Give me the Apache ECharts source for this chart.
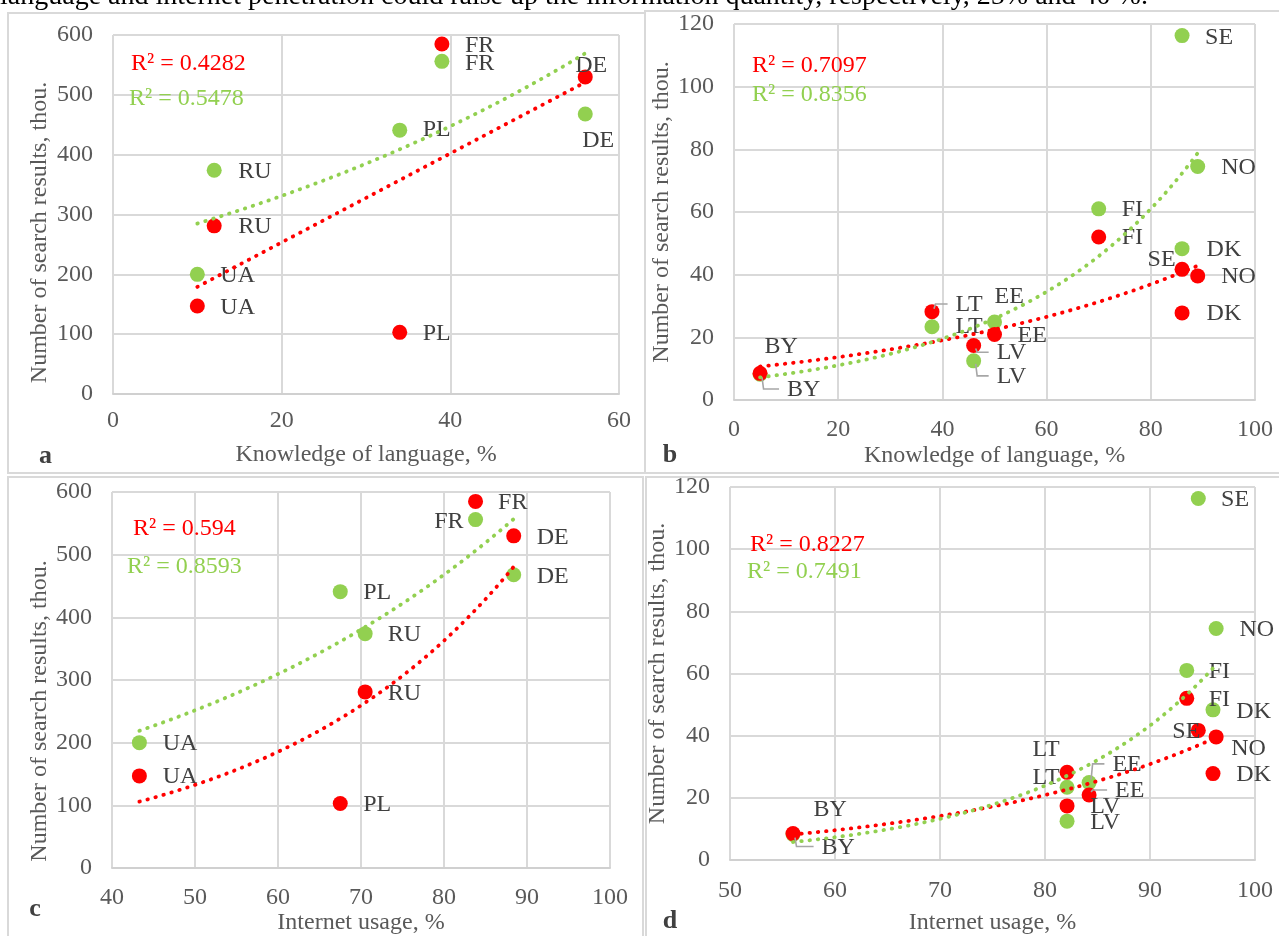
<!DOCTYPE html>
<html>
<head>
<meta charset="utf-8">
<script src="https://cdn.jsdelivr.net/npm/echarts@6/dist/echarts.min.js"></script>
<style>
  html, body { margin: 0; padding: 0; background: #ffffff; }
  #chart { width: 1279px; height: 936px; }
</style>
</head>
<body>
<div id="chart"></div>
<script>
// ---- Data -------------------------------------------------------------
// Large countries
const bigCountries = ['FR', 'DE', 'PL', 'RU', 'UA'];
const bigLanguage  = [39, 56, 34, 12, 10];            // knowledge of language, %
const bigInternet  = [83.8, 88.4, 67.5, 70.5, 43.3];  // internet usage, %
const bigRed       = [585, 530, 103, 281, 147];       // search results, thou.
const bigGreen     = [556, 468, 441, 374, 200];

// Small countries
const smallCountries = ['SE', 'NO', 'FI', 'DK', 'LT', 'EE', 'LV', 'BY'];
const smallLanguage  = [86, 89, 70, 86, 38, 50, 46, 5];
const smallInternet  = [94.6, 96.3, 93.5, 96.0, 82.1, 84.2, 82.1, 56.0];
const smallRed       = [41.7, 39.6, 52, 27.8, 28.2, 20.9, 17.4, 8.5];
const smallGreen     = [116.3, 74.5, 61, 48.3, 23.4, 24.9, 12.5, 8.2];

// Coefficients of determination shown in each panel
const r2Red   = { a: '0.4282', b: '0.7097', c: '0.594', d: '0.8227' };
const r2Green = { a: '0.5478', b: '0.8356', c: '0.8593', d: '0.7491' };

// Axis ticks
const xTicks = { a: [0, 60, 20], b: [0, 100, 20], c: [40, 100, 10], d: [50, 100, 10] };
const yTicks = { a: [0, 600, 100], b: [0, 120, 20], c: [0, 600, 100], d: [0, 120, 20] };

// ---- Styles & layout ---------------------------------------------------
const RED = '#FF0000';
const GREEN = '#92D050';
const SERIF = '"Liberation Serif", "Times New Roman", serif';

// label placement relative to marker centre: [dx, dy, align, leader]
const place = {
  a: {
    red:   { FR: [23, 2], DE: [-10, -11], PL: [23, 1], RU: [24, 1], UA: [23, 2] },
    green: { FR: [23, 2], DE: [-3, 27], PL: [23, 0], RU: [24, 1.5], UA: [23, 1] }
  },
  b: {
    red:   { SE: [-6.5, -10, 'r'], NO: [23.6, 1], FI: [23, 1], DK: [24.5, 1],
             LT: [23.6, -6.7, 'l', 1], EE: [23, 1], LV: [23, 7.7, 'l', 1], BY: [4.5, -26.7] },
    green: { SE: [23, 2], NO: [23.6, 1.5], FI: [23, 1], DK: [24.5, 1],
             LT: [23.6, 0], EE: [0, -25.7], LV: [23, 16, 'l', 1], BY: [27, 15.7, 'l', 1] }
  },
  c: {
    red:   { FR: [22.5, 1], DE: [23, 1.7], PL: [23, 1.3], RU: [22.5, 1.6], UA: [23.3, 1.3] },
    green: { FR: [-12, 1.7, 'r'], DE: [23, 1.7], PL: [23, 1.3], RU: [22.5, 1], UA: [23.3, 1.3] }
  },
  d: {
    red:   { SE: [2, 1, 'r'], NO: [15, 11.3], FI: [22, 1.7], DK: [23.3, 1],
             LT: [-7.4, -22.3, 'r'], EE: [26, -4, 'l', 1], LV: [23.3, 0.7], BY: [20.5, -24] },
    green: { SE: [22.8, 1], NO: [23.3, 1], FI: [22, 1.7], DK: [23.3, 1.7],
             LT: [-7.4, -9.3, 'r'], EE: [23.3, -17.7, 'l', 1], LV: [23.3, 1.7], BY: [28.6, 13, 'l', 1] }
  }
};

const grids = {
  a: { left: 113, top: 35,  width: 506, height: 359 },
  b: { left: 734, top: 24,  width: 521, height: 376 },
  c: { left: 112, top: 492, width: 498, height: 378 },
  d: { left: 730, top: 487, width: 525, height: 375 }
};
const xNames = { a: 'Knowledge of language, %', b: 'Knowledge of language, %', c: 'Internet usage, %', d: 'Internet usage, %' };
const xNameGap = { a: 49, b: 44, c: 43, d: 51 };
const xLabelMargin = { a: 15, b: 18, c: 18, d: 19 };
const yNameGap = { a: 61, b: 54, c: 54, d: 50 };
const yNameShift = { a: 36, b: 0, c: 62, d: 0 };   // pushes the rotated title down
const trendKind = { a: { red: 'linear', green: 'exp' }, b: { red: 'exp', green: 'exp' },
                    c: { red: 'exp', green: 'exp' }, d: { red: 'exp', green: 'exp' } };

const panels = [
  { key: 'a', names: bigCountries,   xs: bigLanguage,    red: bigRed,   green: bigGreen },
  { key: 'b', names: smallCountries, xs: smallLanguage,  red: smallRed, green: smallGreen },
  { key: 'c', names: bigCountries,   xs: bigInternet,    red: bigRed,   green: bigGreen },
  { key: 'd', names: smallCountries, xs: smallInternet,  red: smallRed, green: smallGreen }
];

// ---- Least-squares trend lines ----------------------------------------
function fit(xs, ys, kind) {
  const ty = kind === 'exp' ? ys.map(Math.log) : ys.slice();
  const n = xs.length;
  const mx = xs.reduce((s, v) => s + v, 0) / n;
  const my = ty.reduce((s, v) => s + v, 0) / n;
  let sxy = 0, sxx = 0;
  for (let i = 0; i < n; i++) { sxy += (xs[i] - mx) * (ty[i] - my); sxx += (xs[i] - mx) ** 2; }
  const b = sxy / sxx, a = my - b * mx;
  return kind === 'exp' ? (x) => Math.exp(a + b * x) : (x) => a + b * x;
}
function trendPoints(xs, ys, kind) {
  const f = fit(xs, ys, kind);
  const lo = Math.min(...xs), hi = Math.max(...xs);
  const pts = [];
  const steps = 80;
  for (let i = 0; i <= steps; i++) {
    const x = lo + (hi - lo) * i / steps;
    pts.push([x, f(x)]);
  }
  return pts;
}

// ---- Build option ------------------------------------------------------
const gridList = [], xAxes = [], yAxes = [], series = [], graphics = [];
const axisText = { fontFamily: SERIF, fontSize: 24, color: '#595959' };

panels.forEach((p, gi) => {
  const k = p.key;
  gridList.push(Object.assign({ containLabel: false }, grids[k]));
  xAxes.push({
    type: 'value', gridIndex: gi,
    min: xTicks[k][0], max: xTicks[k][1], interval: xTicks[k][2],
    name: xNames[k], nameLocation: 'middle', nameGap: xNameGap[k],
    nameTextStyle: axisText,
    axisLine: { show: true, lineStyle: { color: '#d0d0d0', width: 2 } },
    axisTick: { show: false },
    axisLabel: Object.assign({ margin: xLabelMargin[k] }, axisText),
    splitLine: { show: true, lineStyle: { color: '#d9d9d9', width: 2 } }
  });
  yAxes.push({
    type: 'value', gridIndex: gi,
    min: yTicks[k][0], max: yTicks[k][1], interval: yTicks[k][2],
    name: 'Number of search results, thou.', nameLocation: 'middle', nameGap: yNameGap[k],
    nameTextStyle: Object.assign({ padding: [0, yNameShift[k], 0, 0] }, axisText),
    axisLine: { show: false },
    axisTick: { show: false },
    axisLabel: Object.assign({ margin: 20 }, axisText),
    splitLine: { show: true, lineStyle: { color: '#d9d9d9', width: 2 } }
  });

  const groups = [
    { id: 'green', color: GREEN, ys: p.green },
    { id: 'red',   color: RED,   ys: p.red }
  ];

  groups.forEach((g) => {
    const pl = place[k][g.id];
    series.push({
      type: 'scatter', xAxisIndex: gi, yAxisIndex: gi, z: 2,
      symbol: 'circle', symbolSize: 15,
      itemStyle: { color: g.color, opacity: 1 },
      label: {
        show: true, position: 'inside', formatter: '{b}',
        fontFamily: SERIF, fontSize: 24, color: '#404040',
        align: 'left', verticalAlign: 'middle'
      },
      emphasis: { disabled: true },
      data: p.names.map((n, i) => {
        const o = pl[n];
        return {
          name: n, value: [p.xs[i], g.ys[i]],
          label: { offset: [o[0], o[1]], align: o[2] === 'r' ? 'right' : 'left' }
        };
      })
    });
    // leader lines for labels pushed away from their marker
    const leaders = [];
    p.names.forEach((n, i) => {
      const o = pl[n];
      if (o[3]) leaders.push([p.xs[i], g.ys[i], o[0], o[1]]);
    });
    if (leaders.length) {
      series.push({
        type: 'custom', xAxisIndex: gi, yAxisIndex: gi, z: 3, silent: true,
        encode: { x: 0, y: 1 },
        data: leaders,
        renderItem: (params, api) => {
          const c = api.coord([api.value(0), api.value(1)]);
          const dx = api.value(2), dy = api.value(3);
          const ly = c[1] + dy - 1;
          const sy = c[1] + (dy > 0 ? 3 : -3);
          return {
            type: 'polyline',
            shape: { points: [[c[0] + 2, sy], [c[0] + 3.5, ly], [c[0] + dx - 8, ly]] },
            style: { stroke: '#a6a6a6', lineWidth: 1.6, fill: null }
          };
        }
      });
    }
  });

  // trend lines
  [{ id: 'red', color: RED, ys: p.red }, { id: 'green', color: GREEN, ys: p.green }].forEach((g) => {
    series.push({
      type: 'line', xAxisIndex: gi, yAxisIndex: gi, z: 4, silent: true,
      showSymbol: false, symbol: 'none', smooth: false,
      lineStyle: { color: g.color, width: 3.8, type: [0.5, 7.8], cap: 'round' },
      data: trendPoints(p.xs, g.ys, trendKind[k][g.id])
    });
  });
});

// panel frames
const frames = [
  { x: 8,   y: 13,  w: 637, h: 460 },
  { x: 645, y: 11,  w: 640, h: 462 },
  { x: 8,   y: 477, w: 635, h: 470 },
  { x: 646, y: 477, w: 640, h: 470 }
];
frames.forEach((f) => graphics.push({
  type: 'rect', z: 0, silent: true,
  shape: { x: f.x, y: f.y, width: f.w, height: f.h },
  style: { fill: null, stroke: '#d9d9d9', lineWidth: 2 }
}));

// R² annotations
const r2Pos = {
  a: [[131, 63.5], [129, 98.5]], b: [[752, 66], [752, 95]],
  c: [[133, 529], [127, 567]],   d: [[750, 545], [747, 572]]
};
Object.keys(r2Pos).forEach((k) => {
  [[r2Red[k], RED], [r2Green[k], GREEN]].forEach((t, j) => {
    graphics.push({
      type: 'text', z: 10, silent: true,
      x: r2Pos[k][j][0], y: r2Pos[k][j][1],
      style: { text: 'R² = ' + t[0], fill: t[1], font: '24px ' + SERIF,
               textAlign: 'left', textVerticalAlign: 'middle' }
    });
  });
});

// panel letters
const letterPos = { a: [45.5, 456], b: [670, 455], c: [35, 909], d: [670, 921] };
Object.keys(letterPos).forEach((k) => graphics.push({
  type: 'text', z: 10, silent: true, x: letterPos[k][0], y: letterPos[k][1],
  style: { text: k, fill: '#404040', font: 'bold 26px ' + SERIF,
           textAlign: 'center', textVerticalAlign: 'middle' }
}));

// running text above the figure (its upper half lies above the page edge)
graphics.push({
  type: 'text', z: 10, silent: true, x: 0, y: 11,
  style: { text: 'language and internet penetration could raise up the information quantity, respectively, 25% and 40 %.',
           fill: '#000000', font: '28px ' + SERIF, textAlign: 'left', textVerticalAlign: 'bottom' }
});

const chart = echarts.init(document.getElementById('chart'), null, { renderer: 'canvas' });
chart.setOption({
  backgroundColor: '#ffffff',
  animation: false,
  grid: gridList,
  xAxis: xAxes,
  yAxis: yAxes,
  series: series,
  graphic: graphics
});
</script>
</body>
</html>
